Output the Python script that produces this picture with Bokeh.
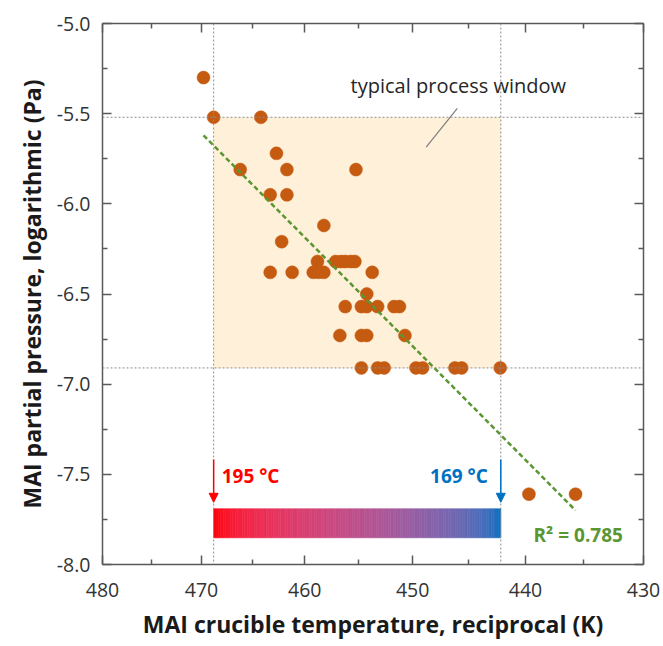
import numpy as np
from bokeh.plotting import figure
from bokeh.models import (Range1d, LinearAxis, FixedTicker, CustomJSTickFormatter,
                          Span, Arrow, NormalHead, CustomLabelingPolicy)
from bokeh.embed import file_html
from bokeh.resources import INLINE
from bokeh.core.properties import value

# ---------------- data ----------------
temperature_K = [469.8, 468.8, 464.2, 462.7, 466.2, 461.7, 455.2, 463.3, 461.7, 458.2,
                 462.2, 458.8, 457.1, 456.6, 456.2, 455.7, 455.3, 463.3, 461.2, 459.2,
                 458.7, 458.2, 453.7, 454.2, 456.2, 454.7, 454.2, 453.2, 451.7, 451.2,
                 456.7, 454.7, 454.2, 450.7, 454.7, 453.2, 452.6, 449.7, 449.1, 446.2,
                 445.6, 442.2, 439.7, 435.7]
log_pressure = [-5.30, -5.52, -5.52, -5.72, -5.81, -5.81, -5.81, -5.95, -5.95, -6.12,
                -6.21, -6.32, -6.32, -6.32, -6.32, -6.32, -6.32, -6.38, -6.38, -6.38,
                -6.38, -6.38, -6.38, -6.50, -6.57, -6.57, -6.57, -6.57, -6.57, -6.57,
                -6.73, -6.73, -6.73, -6.73, -6.91, -6.91, -6.91, -6.91, -6.91, -6.91,
                -6.91, -6.91, -7.61, -7.61]

trend_T = [469.8, 435.7]
trend_logp = [-5.62, -7.70]
r_squared = 0.785

window_T = [468.8, 442.15]        # 195 degC ... 169 degC
window_logp = [-5.52, -6.91]
window_label = "typical process window"
window_celsius = ["195 °C", "169 °C"]

x_major_T = [480, 470, 460, 450, 440, 430]
x_minor_T = [475, 465, 455, 445, 435]
y_major = [-5.0, -5.5, -6.0, -6.5, -7.0, -7.5, -8.0]
y_minor = [-5.25, -5.75, -6.25, -6.75, -7.25, -7.75]

x_title = "MAI crucible temperature, reciprocal (K)"
y_title = "MAI partial pressure, logarithmic (Pa)"

# ---------------- helpers ----------------
def inv(t):
    return 1.0 / np.asarray(t, dtype=float)

FONT = "Open Sans"
AXIS_C = "#595959"
DOT_C = "#C55A11"
GREEN = "#5A9632"
RED = "#FF0000"
BLUE = "#0070C0"

p = figure(width=663, height=646, output_backend="svg", toolbar_location=None,
           x_range=Range1d(1 / 480, 1 / 430), y_range=Range1d(-8.0, -5.0),
           x_axis_type=None, y_axis_type=None,
           min_border_left=102, min_border_right=20, min_border_top=23,
           min_border_bottom=82)
p.outline_line_color = None
p.background_fill_color = "white"
p.border_fill_color = "white"

xt = FixedTicker(ticks=list(inv(x_major_T)), minor_ticks=list(inv(x_minor_T)))
yt = FixedTicker(ticks=y_major, minor_ticks=y_minor)
xfmt = CustomJSTickFormatter(code="return (1/tick).toFixed(0);")
yfmt = CustomJSTickFormatter(code="return tick.toFixed(1);")
no_labels = CustomLabelingPolicy(code="""
try { for (let i = 0; i < indices.size; i++) { indices.unset(i) } } catch (e) {}
return indices;
""")


def style(ax, labels=True):
    ax.axis_line_color = AXIS_C
    ax.axis_line_width = 1.5
    ax.major_tick_line_color = AXIS_C
    ax.minor_tick_line_color = AXIS_C
    ax.major_tick_line_width = 1.5
    ax.minor_tick_line_width = 1.5
    ax.major_tick_in = 9
    ax.major_tick_out = 0
    ax.minor_tick_in = 5
    ax.minor_tick_out = 0
    ax.major_label_text_font = FONT
    ax.major_label_text_font_size = "19.5px" if labels else "0px"
    ax.major_label_text_color = "#333333"
    ax.axis_label_text_font = FONT
    ax.axis_label_text_font_size = "23px"
    ax.axis_label_text_font_style = "bold"
    ax.axis_label_text_color = "#1a1a1a"
    if not labels:
        ax.major_label_policy = no_labels


xb = LinearAxis(ticker=xt, formatter=xfmt, axis_label=x_title)
style(xb)
xb.major_label_standoff = 18
xb.axis_label_standoff = 8
p.add_layout(xb, "below")

xa = LinearAxis(ticker=xt, formatter=xfmt)
style(xa, labels=False)
xa.major_label_standoff = 0
p.add_layout(xa, "above")

yl = LinearAxis(ticker=yt, formatter=yfmt, axis_label=y_title)
style(yl)
yl.major_label_standoff = 12
yl.axis_label_standoff = 6
p.add_layout(yl, "left")

yr = LinearAxis(ticker=yt, formatter=yfmt)
style(yr, labels=False)
yr.major_label_standoff = 0
p.add_layout(yr, "right")

# process window shading
wx = inv(window_T)
p.quad(left=[wx[0]], right=[wx[1]], top=[window_logp[0]], bottom=[window_logp[1]],
       fill_color="#FFF0D9", line_color=None)

# dotted guide lines
for xv in wx:
    p.add_layout(Span(location=float(xv), dimension="height", line_color="#8C8C8C",
                      line_width=1, line_dash="2 2"))
for yv in window_logp:
    p.add_layout(Span(location=yv, dimension="width", line_color="#8C8C8C",
                      line_width=1, line_dash="2 2"))

# data points
p.scatter(inv(temperature_K), log_pressure, size=13, fill_color=DOT_C,
          line_color=DOT_C, line_width=0.5)

# trend line
p.line(inv(trend_T), trend_logp, line_color=GREEN, line_width=2.5, line_dash="5 3")

# gradient bar (195 degC -> 169 degC)
bar_top, bar_bottom = -7.691, -7.852
n = 120
edges = np.linspace(wx[0], wx[1], n + 1)


def to_lin(c):
    c = c / 255.0
    return np.where(c <= 0.04045, c / 12.92, ((c + 0.055) / 1.055) ** 2.4)


def to_srgb(c):
    c = np.where(c <= 0.0031308, c * 12.92, 1.055 * c ** (1 / 2.4) - 0.055)
    return np.clip(np.round(c * 255), 0, 255).astype(int)


c0 = to_lin(np.array([255, 0, 0], float))
c1 = to_lin(np.array([0, 112, 192], float))
cols = []
for i in range(n):
    t = (i + 0.5) / n
    rgb = to_srgb(c0 * (1 - t) + c1 * t)
    cols.append("#%02x%02x%02x" % tuple(rgb))
p.quad(left=edges[:-1], right=edges[1:], top=bar_top, bottom=bar_bottom,
       fill_color=cols, line_color=cols, line_width=0.6)

# arrows
arrow_top, arrow_tip = -7.418, -7.655
for xv, c in zip(wx, [RED, BLUE]):
    p.add_layout(Arrow(end=NormalHead(size=9, fill_color=c, line_color=c, line_width=1),
                       x_start=float(xv), y_start=arrow_top, x_end=float(xv), y_end=arrow_tip,
                       line_color=c, line_width=1.5))

# annotation texts
p.text(x=[wx[0]], y=[-7.512], text=[window_celsius[0]], x_offset=8,
       text_font=value(FONT), text_font_style="bold", text_font_size="19px",
       text_color=RED, text_align="left", text_baseline="middle")
p.text(x=[wx[1]], y=[-7.512], text=[window_celsius[1]], x_offset=-13,
       text_font=value(FONT), text_font_style="bold", text_font_size="19px",
       text_color=BLUE, text_align="right", text_baseline="middle")
p.text(x=[1 / 439.3], y=[-7.835], text=["R² = %.3f" % r_squared],
       text_font=value(FONT), text_font_style="bold", text_font_size="19px",
       text_color=GREEN, text_align="left", text_baseline="middle")
p.text(x=[1 / 455.7], y=[-5.345], text=[window_label],
       text_font=value(FONT), text_font_size="20px",
       text_color="#262626", text_align="left", text_baseline="middle")

# leader line to the window
leader_T = [445.99, 448.78]
leader_logp = [-5.470, -5.686]
p.line(inv(leader_T), leader_logp, line_color="#7F7F7F", line_width=1.2)

open("out.html", "w").write(file_html(p, INLINE))
